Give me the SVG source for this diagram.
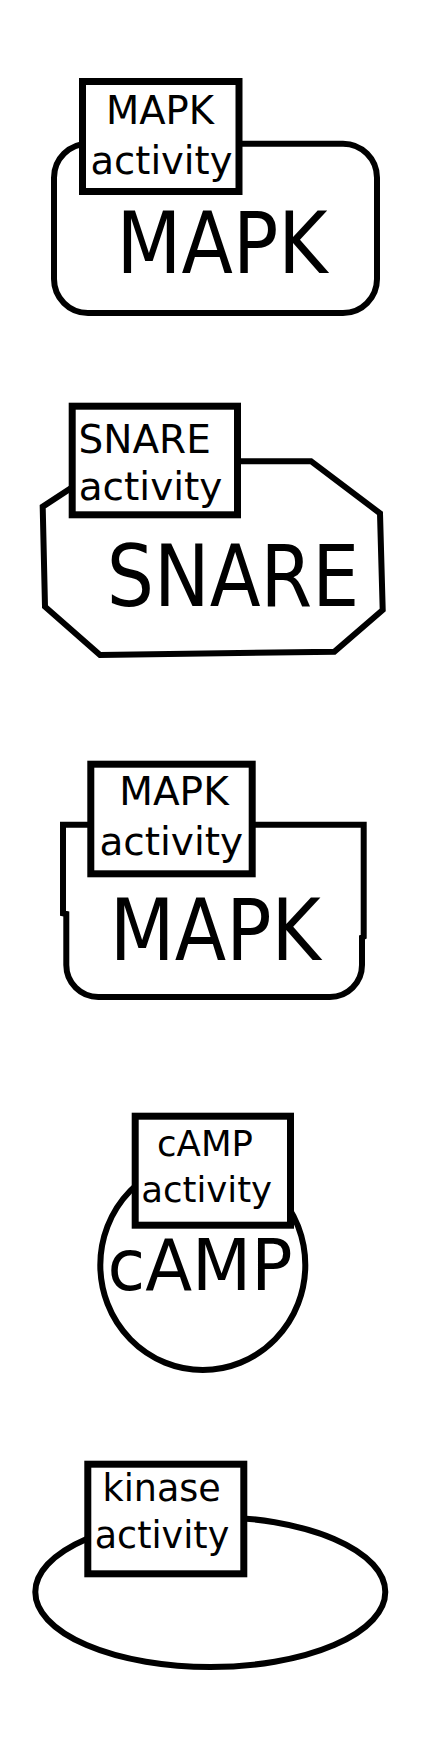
<svg xmlns="http://www.w3.org/2000/svg" width="435" height="1751" viewBox="0 0 435 1751">
<style>
.shape{fill:#fff;stroke:#000;stroke-width:6;stroke-linejoin:miter}
.box{fill:#fff;stroke:#000;stroke-width:7}
.t{font-family:"DejaVu Sans","Liberation Sans",sans-serif;fill:#000}
.s{font-size:38.5px;text-anchor:middle}
</style>
<rect width="435" height="1751" fill="#fff"/>
<g id="connectors"/>
<g id="node-mapk1">
<rect class="shape" x="54" y="143.7" width="323" height="169.3" rx="34" ry="34"/>
<text class="t" x="116.6" y="272.7" font-size="85" textLength="211" lengthAdjust="spacingAndGlyphs">MAPK</text>
<rect class="box" x="82.5" y="81.5" width="156.5" height="110"/>
<text class="t s" x="160" y="124.3">MAPK</text>
<text class="t s" x="161.5" y="174">activity</text>
</g>
<g id="node-snare">
<polygon class="shape" points="42.7,506.7 45,606.7 100,655 334.3,651.7 382.7,610 380,513.3 311,461.2 112,461.2"/>
<text class="t" x="106.8" y="606" font-size="85" textLength="252.4" lengthAdjust="spacingAndGlyphs">SNARE</text>
<rect class="box" x="72.2" y="406.2" width="165.3" height="108.6"/>
<text class="t" x="78.5" y="453.3" font-size="39">SNARE</text>
<text class="t" x="78.7" y="500" font-size="39">activity</text>
</g>
<g id="node-mapk2">
<path class="shape" d="M63,913.3 L63,824.7 L363.7,824.7 L363.7,936.7 L362,937.5 L362,965 A32,32 0 0 1 330,997 L98.3,997 A32,32 0 0 1 66.3,965 L66.3,914 Z"/>
<text class="t" x="109.8" y="960" font-size="86" textLength="211" lengthAdjust="spacingAndGlyphs">MAPK</text>
<rect class="box" x="90.8" y="764.2" width="161.4" height="109.6"/>
<text class="t s" x="174" y="805" style="font-size:39px">MAPK</text>
<text class="t s" x="171.3" y="855" style="font-size:39px">activity</text>
</g>
<g id="node-camp">
<ellipse class="shape" cx="202.8" cy="1265" rx="102.5" ry="105"/>
<text class="t" x="107.5" y="1290" font-size="72" textLength="185" lengthAdjust="spacingAndGlyphs">cAMP</text>
<rect class="box" x="135.2" y="1116.2" width="155.3" height="109"/>
<text class="t s" x="205" y="1156" style="font-size:35.5px">cAMP</text>
<text class="t s" x="206.7" y="1201.7" style="font-size:35.5px">activity</text>
</g>
<g id="node-kinase">
<ellipse class="shape" cx="210.3" cy="1592" rx="175" ry="75"/>
<rect class="box" x="87.8" y="1464.2" width="156" height="109.6"/>
<text class="t s" x="161.7" y="1501.3" style="font-size:36.5px">kinase</text>
<text class="t s" x="162" y="1548" style="font-size:36.5px">activity</text>
</g>
</svg>
